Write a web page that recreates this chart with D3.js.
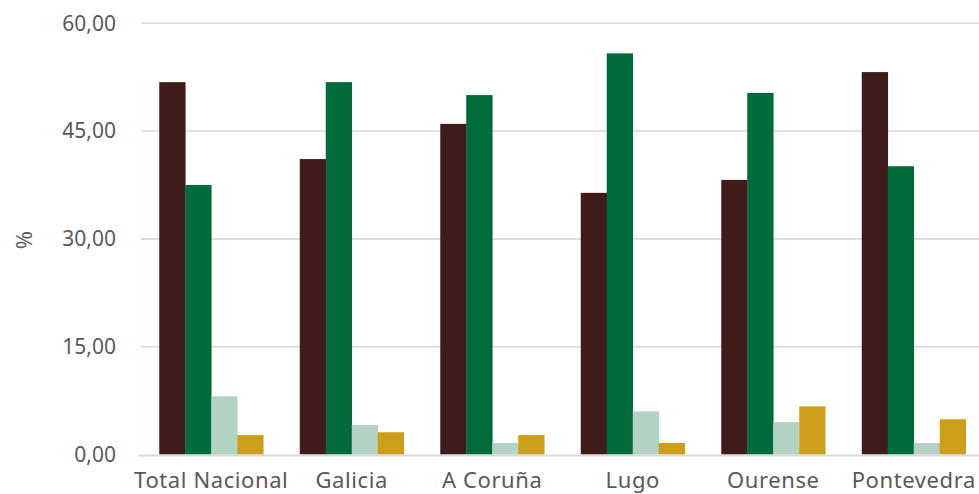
<!DOCTYPE html>
<html>
<head>
<meta charset="utf-8">
<script src="https://cdn.jsdelivr.net/npm/d3@7"></script>
<style>
  body { margin: 0; background: #fff; }
  svg { display: block; }
  text { font-family: "Noto Sans", "Open Sans", sans-serif; fill: #595959; }
</style>
</head>
<body>
<svg width="979" height="494"></svg>
<script>
var width = 979, height = 494;

// data
var categories = ["Total Nacional", "Galicia", "A Coruña", "Lugo", "Ourense", "Pontevedra"];
var seriesNames = ["s1", "s2", "s3", "s4"];
var s1 = [51.8, 41.1, 46.0, 36.4, 38.2, 53.2];
var s2 = [37.5, 51.8, 50.0, 55.8, 50.3, 40.1];
var s3 = [8.1, 4.1, 1.6, 6.0, 4.5, 1.6];
var s4 = [2.7, 3.1, 2.7, 1.6, 6.7, 4.9];
var yTicks = [0, 15, 30, 45, 60];
var colors = ["#3f1c1a", "#006a3a", "#b2d3c4", "#cc9e19"];

var seriesValues = [s1, s2, s3, s4];
var rows = categories.map(function (c, i) {
    return { cat: c, vals: seriesValues.map(function (s) { return s[i]; }) };
});

var svg = d3.select("svg");

var x0 = d3.scaleBand().domain(categories).range([141, 984])
    .paddingInner(0.26).paddingOuter(0.13);
var x1 = d3.scaleBand().domain(seriesNames).range([0, x0.bandwidth()]);
var y = d3.scaleLinear().domain([0, 60]).range([454.5, 23.2]);

var fmt = function (d) { return d3.format(".2f")(d).replace(".", ","); };

// gridlines
svg.append("g").selectAll("line").data(yTicks.filter(function (d) { return d > 0; }))
    .enter().append("line")
    .attr("x1", 141).attr("x2", width)
    .attr("y1", function (d) { return y(d); })
    .attr("y2", function (d) { return y(d); })
    .attr("stroke", "#d9d9d9")
    .attr("stroke-width", 1.6);

// y labels
svg.append("g").selectAll("text").data(yTicks).enter().append("text")
    .attr("x", 116)
    .attr("y", function (d) { return y(d); })
    .attr("dy", "0.35em")
    .attr("text-anchor", "end")
    .attr("font-size", "21px")
    .text(fmt);

// axis title
svg.append("text")
    .attr("transform", "translate(32,240) rotate(-90)")
    .attr("text-anchor", "middle")
    .attr("font-size", "22px")
    .text("%");

// bars
var groups = svg.append("g").selectAll("g").data(rows).enter().append("g")
    .attr("transform", function (d) { return "translate(" + x0(d.cat) + ",0)"; });

groups.selectAll("rect").data(function (d) { return d.vals; }).enter().append("rect")
    .attr("x", function (d, i) { return x1(seriesNames[i]); })
    .attr("width", x1.bandwidth() + 0.3)
    .attr("y", function (d) { return y(d); })
    .attr("height", function (d) { return y(0) - y(d); })
    .attr("fill", function (d, i) { return colors[i]; });

// baseline
svg.append("line")
    .attr("x1", 138).attr("x2", width)
    .attr("y1", y(0) + 1).attr("y2", y(0) + 1)
    .attr("stroke", "#d9d9d9")
    .attr("stroke-width", 2);

// category labels
svg.append("g").selectAll("text").data(categories).enter().append("text")
    .attr("x", function (d) { return x0(d) + x0.bandwidth() / 2; })
    .attr("y", 488)
    .attr("text-anchor", "middle")
    .attr("font-size", "22px")
    .attr("letter-spacing", "0.6px")
    .text(function (d) { return d; });
</script>
</body>
</html>
